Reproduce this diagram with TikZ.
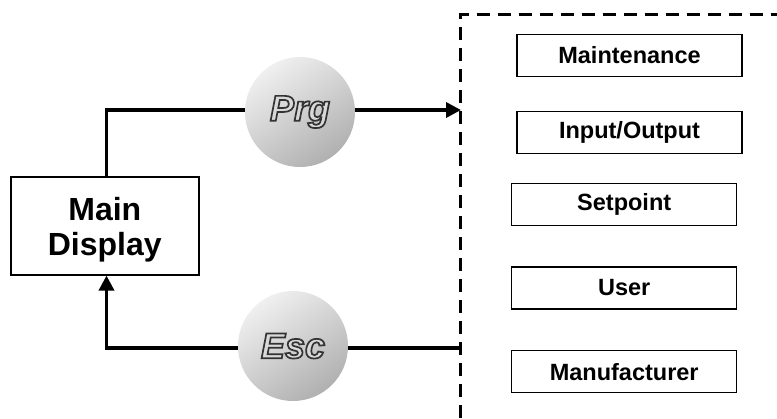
\documentclass[tikz,border=0pt]{standalone}
\usepackage{fontspec}
\setmainfont{Liberation Sans}
\usetikzlibrary{arrows.meta,calc}
\newcommand{\outlinetext}[1]{\special{pdf:literal direct 2 Tr 1.7 w 0.2 G}#1\special{pdf:literal direct 0 Tr 0 G}}
\begin{document}
\begin{tikzpicture}[x=1pt,y=-1pt,
  line/.style={line width=3.5pt},
  arr/.style={line, -{Triangle[length=15pt,width=15pt]}},
  menubox/.style={draw, line width=1.3pt, minimum width=225pt, minimum height=42pt, inner sep=0pt,
    font=\fontsize{23.5}{26}\selectfont\bfseries},
  mainbox/.style={draw, line width=1.5pt, minimum width=188pt, minimum height=98pt, inner sep=0pt},
  mainlabel/.style={align=center, inner sep=0pt, font=\fontsize{32}{35}\selectfont\bfseries},
  btn/.style={circle, minimum size=110pt, inner sep=0pt, top color=gray!12, bottom color=gray!62,
    shading angle=35, text=gray!30, font=\fontsize{36}{36}\selectfont\bfseries\itshape},
  frame/.style={line width=3pt, dash pattern=on 13pt off 8pt}]
\useasboundingbox (0,0) rectangle (777,418);
% menu frame
\coordinate (fb) at (460.7,418);
\coordinate (ft) at (460.7,14);
\coordinate (fr) at (777,14);
\draw[frame] (fb) -- (ft) -- (fr);
% main display
\node[mainbox] (main) at (104.8,225.8) {};
\node[mainlabel] (mainlbl) at (104.8,229.5) {Main\\Display};
% connectors
\coordinate (tl) at (106.5,110);
\coordinate (tr) at (461,110);
\coordinate (bl) at (106.5,348);
\coordinate (br) at (461,348);
\draw[arr] (main.north -| tl) |- (tr);
\draw[arr] (br) -| (main.south -| bl);
% buttons
\node[btn] (prg) at (300,112) {\outlinetext{Prg}};
\node[btn] (esc) at (293,346) {\outlinetext{Esc}};
% menu boxes
\node[menubox] (m1) at (629.5,55.2) {Maintenance};
\node[menubox] (m2) at (629.5,132.5) {Input/Output};
\node[menubox] (m3) at (624.2,204.7) {Setpoint};
\node[menubox] (m4) at (624.2,288) {User};
\node[menubox] (m5) at (624.2,371.7) {Manufacturer};
\end{tikzpicture}
\end{document}
